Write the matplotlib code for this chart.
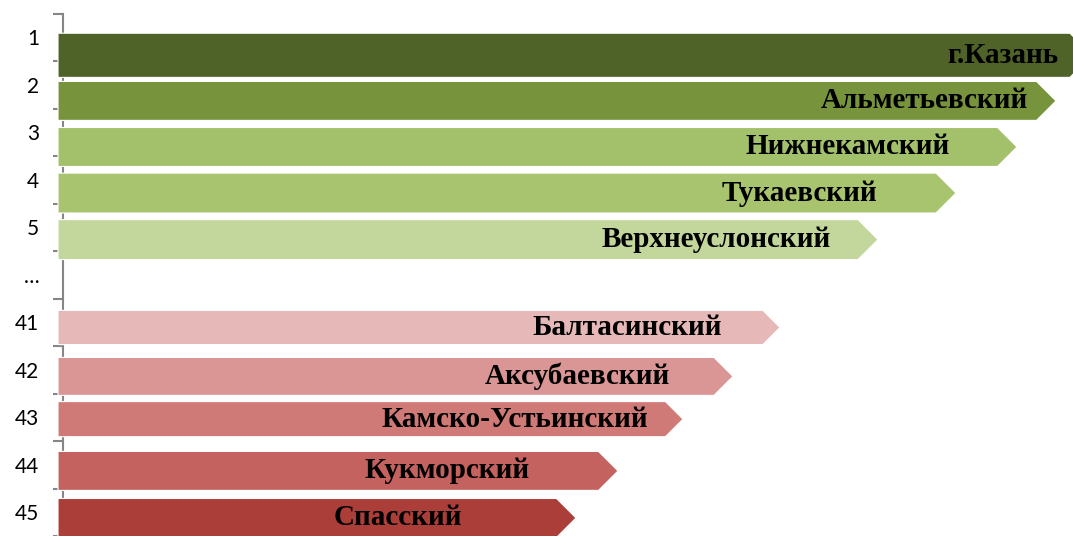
import matplotlib.pyplot as plt
from matplotlib.patches import Polygon

# data
ranks = ["1", "2", "3", "4", "5", "…", "41", "42", "43", "44", "45"]
districts = ["г.Казань", "Альметьевский", "Нижнекамский", "Тукаевский", "Верхнеуслонский",
             None,
             "Балтасинский", "Аксубаевский", "Камско-Устьинский", "Кукморский", "Спасский"]
values = [1034, 998, 959, 898, 820, None, 722, 675, 625, 560, 518]
colors = ["#4F6228", "#77933C", "#A3C16A", "#A9C46F", "#C3D69B", None,
          "#E6B9B8", "#D99694", "#CF7A77", "#C4625F", "#AC3E3A"]

# layout tweaks (bar vertical offset / height in row units, label gap from tip in px)
offsets = [0.38, 0.34, 0.31, 0.28, 0.26, 0, 0.11, 0.14, 0.04, 0.13, 0.12]
heights = [0.93, 0.82, 0.82, 0.84, 0.84, 0, 0.72, 0.80, 0.74, 0.82, 0.82]
label_gap = [34, 28, 67, 79, 47, 0, 58, 63, 35, 88, 114]
bar_start = -5

fig = plt.figure(figsize=(10.73, 5.36), dpi=100)
ax = fig.add_axes([63 / 1073, 0, 1010 / 1073, 522.5 / 536])
ax.set_xlim(0, 1010)
ax.set_ylim(len(ranks) - 0.5, -0.5)

px_per_row = 47.5
for i, v in enumerate(values):
    if v is None:
        continue
    yc = i + offsets[i]
    h = heights[i]
    tip = h * px_per_row / 2
    x1 = bar_start + v
    pts = [(bar_start, yc - h / 2), (x1 - tip, yc - h / 2), (x1, yc),
           (x1 - tip, yc + h / 2), (bar_start, yc + h / 2)]
    ax.add_patch(Polygon(pts, closed=True, facecolor=colors[i], edgecolor="white",
                         lw=0.8, clip_on=False, zorder=3))
    ax.text(x1 - label_gap[i], yc, districts[i], ha="right", va="center",
            family="Liberation Serif", weight="bold", fontsize=21, zorder=4,
            clip_on=False)

for s in ["top", "right", "bottom"]:
    ax.spines[s].set_visible(False)
ax.spines["left"].set_color("#868686")
ax.spines["left"].set_linewidth(1.5)
ax.spines["left"].set_zorder(1)

ax.set_xticks([])
ax.set_yticks(range(len(ranks)))
ax.set_yticklabels(ranks, family="Lato", fontsize=15)
ax.tick_params(axis="y", which="major", length=0, pad=17)
ax.set_yticks([i - 0.5 for i in range(len(ranks) + 1)], minor=True)
ax.tick_params(axis="y", which="minor", length=7, width=1.5, color="#868686")
ax.patch.set_visible(False)

fig.savefig("out.png", dpi=100)
